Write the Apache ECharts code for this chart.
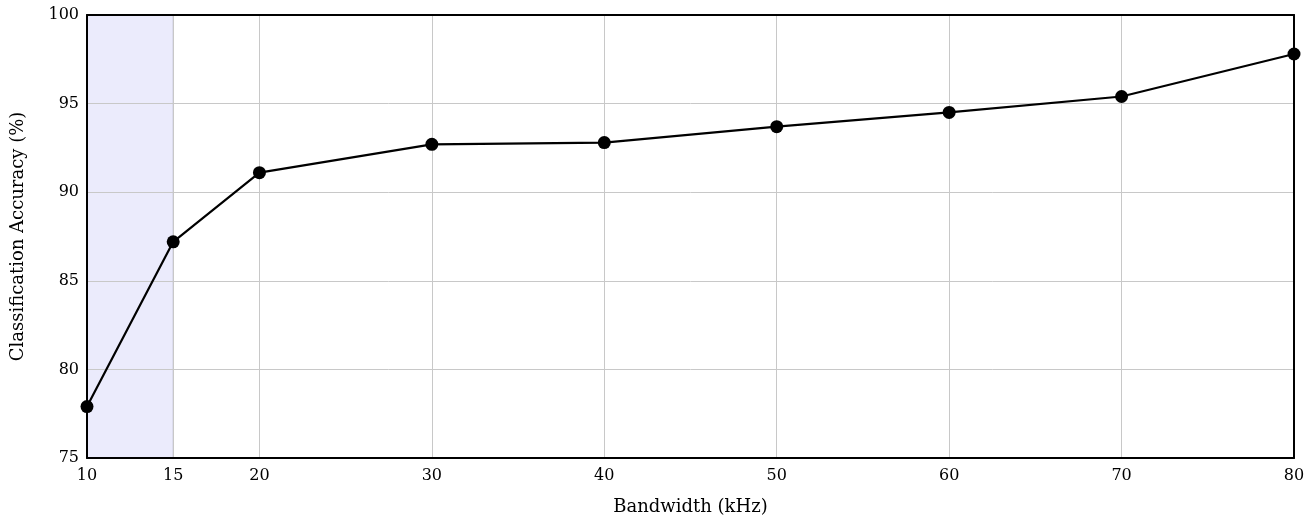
<!DOCTYPE html>
<html><head><meta charset="utf-8">
<script src="https://cdn.jsdelivr.net/npm/echarts@6/dist/echarts.min.js"></script>
<style>html,body{margin:0;padding:0;background:#fff}#c{width:1313px;height:517px}</style>
</head><body><div id="c"></div>
<script>
const bandwidth = [10, 15, 20, 30, 40, 50, 60, 70, 80];
const accuracy = [77.9, 87.2, 91.1, 92.7, 92.8, 93.7, 94.5, 95.4, 97.8];
const xTicks = [10, 15, 20, 30, 40, 50, 60, 70, 80];
const shadedRange = [10, 15];
const FONT = 'DejaVu Serif';
const frame = {show: true, lineStyle: {color: '#000', width: 2}};
const chart = echarts.init(document.getElementById('c'), null, {renderer: 'canvas'});
chart.setOption({
  animation: false,
  grid: {left: 87, right: 19, top: 15, bottom: 59, outerBoundsMode: 'none', containLabel: false},
  xAxis: [{
    type: 'value', min: 10, max: 80, interval: 5, z: 10,
    name: 'Bandwidth (kHz)', nameLocation: 'middle', nameGap: 40,
    nameTextStyle: {fontFamily: FONT, fontSize: 18, color: '#000'},
    axisLine: frame,
    axisTick: {show: false, customValues: xTicks},
    axisLabel: {customValues: xTicks, fontFamily: FONT, fontSize: 16, color: '#000', margin: 10},
    splitLine: {show: true, lineStyle: {color: '#c8c8c8', width: 1}}
  }, {
    type: 'value', min: 10, max: 80, position: 'top', z: 10,
    axisLine: frame, axisTick: {show: false}, axisLabel: {show: false}, splitLine: {show: false}
  }],
  yAxis: [{
    type: 'value', min: 75, max: 100, interval: 5, z: 10,
    name: 'Classification Accuracy (%)', nameLocation: 'middle', nameGap: 60,
    nameTextStyle: {fontFamily: FONT, fontSize: 18, color: '#000'},
    axisLine: frame, axisTick: {show: false},
    axisLabel: {fontFamily: FONT, fontSize: 16, color: '#000', margin: 8},
    splitLine: {show: true, lineStyle: {color: '#c8c8c8', width: 1}}
  }, {
    type: 'value', min: 75, max: 100, position: 'right', z: 10,
    axisLine: frame, axisTick: {show: false}, axisLabel: {show: false}, splitLine: {show: false}
  }],
  series: [{
    type: 'line',
    data: bandwidth.map((b, i) => [b, accuracy[i]]),
    symbol: 'circle', symbolSize: 13,
    lineStyle: {color: '#000', width: 2.2},
    itemStyle: {color: '#000'},
    z: 20,
    markArea: {
      silent: true, z: 1,
      itemStyle: {color: 'rgba(235,235,252,1)', borderColor: '#b8b8c8', borderWidth: 1},
      data: [[{xAxis: shadedRange[0]}, {xAxis: shadedRange[1]}]]
    }
  }]
});
</script></body></html>
